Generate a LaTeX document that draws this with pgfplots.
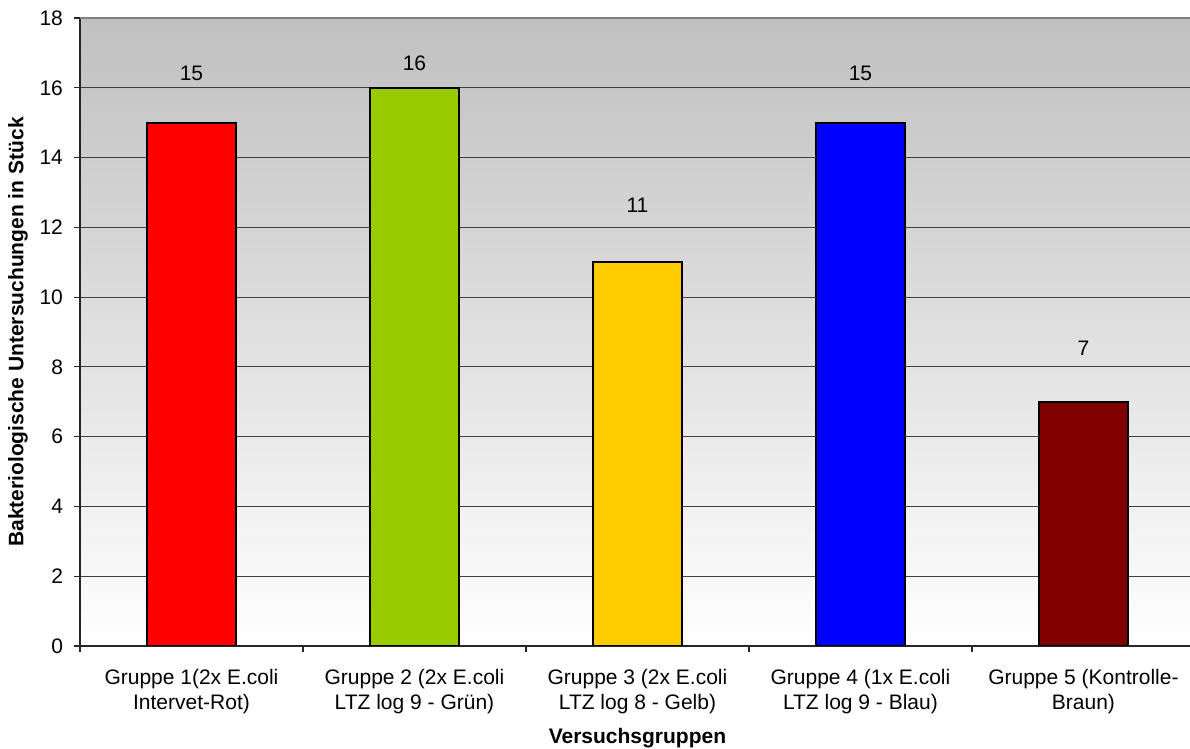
\documentclass[border=0pt]{standalone}
\usepackage{pgfplots}
\pgfplotsset{compat=1.18}
\usepackage{fontspec}
\setmainfont{Liberation Sans}
\definecolor{bgtop}{RGB}{192,192,192}
\definecolor{cred}{RGB}{255,0,0}
\definecolor{cgreen}{RGB}{153,204,0}
\definecolor{cyellow}{RGB}{255,204,0}
\definecolor{cblue}{RGB}{0,0,255}
\definecolor{cbrown}{RGB}{128,0,0}
\begin{document}
\begin{tikzpicture}
\begin{axis}[
  scale only axis, width=555pt, height=314pt,
  xmin=-0.5, xmax=4.478, ymin=0, ymax=18,
  axis x line*=bottom, axis y line*=left,
  axis line style={black!85, line width=0.6pt},
  axis background/.style={shade, top color=bgtop, bottom color=white},
  ytick={0,2,...,18},
  ymajorgrids, grid style={black!75, line width=0.5pt},
  xtick={-0.5,0.5,1.5,2.5,3.5}, xticklabels={},
  extra x ticks={0,1,2,3,4},
  extra x tick labels={{Gruppe 1(2x E.coli\\Intervet-Rot)},{Gruppe 2 (2x E.coli\\LTZ log 9 - Grün)},{Gruppe 3 (2x E.coli\\LTZ log 8 - Gelb)},{Gruppe 4 (1x E.coli\\LTZ log 9 - Blau)},{Gruppe 5 (Kontrolle-\\Braun)}},
  extra x tick style={major tick length=0pt, grid=none, xticklabel style={align=center, anchor=north, yshift=-8pt}},
  tick align=outside, major tick length=3pt,
  tick style={black!85, line width=0.6pt},
  /pgf/number format/assume math mode=true,
  tick label style={font=\fontsize{10.5}{12.8}\selectfont},
  yticklabel style={xshift=-2pt},
  xlabel={\textbf{Versuchsgruppen}},
  xlabel style={at={(axis cs:2,0)}, anchor=center, yshift=-46pt, font=\fontsize{10.5}{12.5}\selectfont},
  ylabel={\textbf{Bakteriologische Untersuchungen in Stück}},
  ylabel style={at={(axis description cs:-0.0559,0.5)}, anchor=center, font=\fontsize{10.5}{12.5}\selectfont},
]
\addplot[ybar, bar width=0.4, bar shift=0pt, fill=cred, draw=black, line width=0.9pt] coordinates {(0,15)};
\addplot[ybar, bar width=0.4, bar shift=0pt, fill=cgreen, draw=black, line width=0.9pt] coordinates {(1,16)};
\addplot[ybar, bar width=0.4, bar shift=0pt, fill=cyellow, draw=black, line width=0.9pt] coordinates {(2,11)};
\addplot[ybar, bar width=0.4, bar shift=0pt, fill=cblue, draw=black, line width=0.9pt] coordinates {(3,15)};
\addplot[ybar, bar width=0.4, bar shift=0pt, fill=cbrown, draw=black, line width=0.9pt] coordinates {(4,7)};
\addplot[draw=none, mark=none, nodes near coords, point meta=explicit symbolic,
  every node near coord/.append style={anchor=center, font=\fontsize{10.5}{12.5}\selectfont}]
  coordinates {(0,16.42)[15] (1,16.71)[16] (2,12.64)[11] (3,16.42)[15] (4,8.54)[7]};
\draw[black!50, line width=1.2pt] (rel axis cs:0,1) -- (rel axis cs:1,1);
\end{axis}
\pgfresetboundingbox
\path[use as bounding box] ([shift={(-40pt,-51.5pt)}]current axis.south west) rectangle ([shift={(0pt,9pt)}]current axis.north east);
\end{tikzpicture}
\end{document}
